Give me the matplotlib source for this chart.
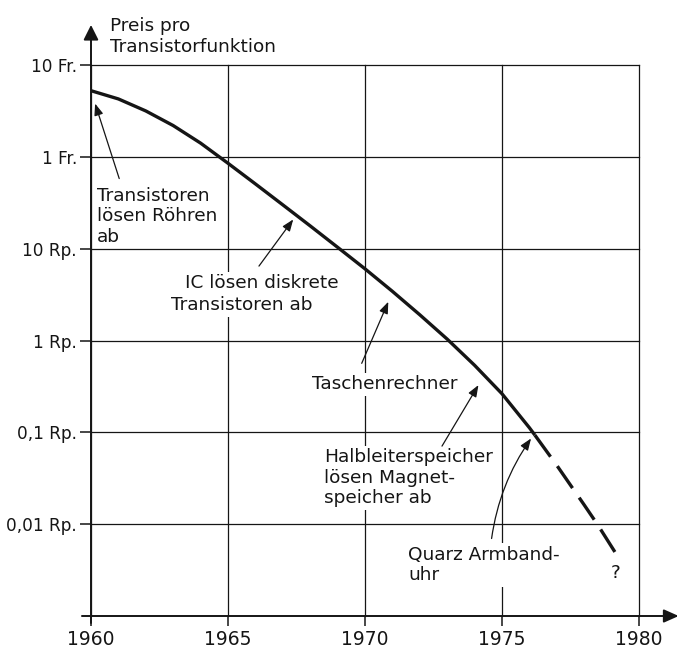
import matplotlib
matplotlib.use("Agg")
import matplotlib.pyplot as plt

# ---- data (values in Rappen) ----
years_solid = [1960, 1961, 1962, 1963, 1964, 1965, 1966, 1967, 1968, 1969,
               1970, 1971, 1972, 1973, 1974, 1975, 1976, 1976.2]
price_solid = [525, 427, 316, 219, 141, 85.1, 50.7, 30.0, 17.7, 10.35,
               6.03, 3.43, 1.905, 1.035, 0.537, 0.263, 0.1122, 0.0933]
years_dash = [1976.2, 1977, 1978, 1978.5, 1979.2]
price_dash = [0.0933, 0.0437, 0.0162, 0.00977, 0.00457]

x_ticks = [1960, 1965, 1970, 1975, 1980]
x_labels = ["1960", "1965", "1970", "1975", "1980"]
y_ticks = [1000, 100, 10, 1, 0.1, 0.01]
y_labels = ["10 Fr.", "1 Fr.", "10 Rp.", "1 Rp.", "0,1 Rp.", "0,01 Rp."]

FONT = "DejaVu Sans"
plt.rcParams['font.family'] = [FONT]
INK = "#151515"
FS = 13.3

fig = plt.figure(figsize=(6.77, 6.49), dpi=100)
ax = fig.add_axes([91/677, 1 - 616/649, 548/677, 551/649])
ax.set_yscale("log")
ax.set_xlim(1960, 1980)
ax.set_ylim(0.001, 1000)

for s in ax.spines.values():
    s.set_visible(False)

ax.set_xticks(x_ticks)
ax.set_xticklabels(x_labels, fontsize=13.5, color=INK)
ax.set_yticks(y_ticks)
ax.set_yticklabels(y_labels, fontsize=12.2, color=INK)
ax.minorticks_off()
ax.tick_params(axis='x', direction='out', length=7, width=1.1, pad=3, color=INK)
ax.tick_params(axis='y', direction='out', length=8, width=1.1, pad=2, color=INK)
ax.grid(True, color=INK, lw=0.9)
ax.set_axisbelow(True)
for gl in ax.get_xgridlines() + ax.get_ygridlines():
    gl.set_clip_on(False)

# axes with arrows
ax.annotate('', xy=(1960, 2730), xytext=(1960, 10**-3.076),
            arrowprops=dict(arrowstyle='-|>,head_length=0.9,head_width=0.45',
                            lw=1.4, color=INK, shrinkA=0, shrinkB=0),
            annotation_clip=False, zorder=5)
ax.annotate('', xy=(1981.45, 0.001), xytext=(1959.67, 0.001),
            arrowprops=dict(arrowstyle='-|>,head_length=0.9,head_width=0.4',
                            lw=1.4, color=INK, shrinkA=0, shrinkB=0),
            annotation_clip=False, zorder=5)

# curve
ax.plot(years_solid, price_solid, color=INK, lw=2.4, solid_capstyle='butt',
        solid_joinstyle='round', zorder=4)
ax.plot(years_dash, price_dash, color=INK, lw=2.4, dashes=(8, 3.5), zorder=4)

# labels (y position = baseline of the LAST line)
box = dict(facecolor='white', edgecolor='none', pad=2)
tkw = dict(fontsize=FS, color=INK, ha='left', va='baseline', linespacing=1.16,
           zorder=3)
ax.text(1960.69, 1396, "Preis pro\nTransistorfunktion", clip_on=False, **tkw)
ax.text(1960.22, 11.9, "Transistoren\nlösen Röhren\nab", bbox=box, **tkw)
ax.text(1963.43, 3.69, "IC lösen diskrete", bbox=box, **tkw)
ax.text(1962.92, 2.14, "Transistoren ab", bbox=box, **tkw)
ax.text(1968.07, 0.293, "Taschenrechner", bbox=box, **tkw)
ax.text(1968.50, 0.0171, "Halbleiterspeicher\nlösen Magnet-\nspeicher ab", bbox=box, **tkw)
ax.text(1971.58, 0.00245, "Quarz Armband-\nuhr", bbox=box, **tkw)
ax.text(1979.16, 0.00257, "?", fontsize=FS, color=INK, ha='center', va='baseline', zorder=3)

# annotation arrows (tail -> tip)
akw = dict(arrowstyle='-|>,head_length=0.7,head_width=0.27', lw=0.9, color=INK,
           shrinkA=0, shrinkB=0)
arrows = [((1961.03, 58), (1960.15, 380), 'arc3'),
          ((1966.13, 6.46), (1967.38, 20.8), 'arc3'),
          ((1969.88, 0.564), (1970.85, 2.64), 'arc3'),
          ((1972.81, 0.0708), (1974.14, 0.327), 'arc3'),
          ((1974.62, 0.00698), (1976.06, 0.0857), 'arc3,rad=-0.12')]
for tail, tip, cs in arrows:
    ax.annotate('', xy=tip, xytext=tail,
                arrowprops=dict(connectionstyle=cs, **akw), zorder=6)

fig.savefig("out.png", dpi=100, facecolor='white')
